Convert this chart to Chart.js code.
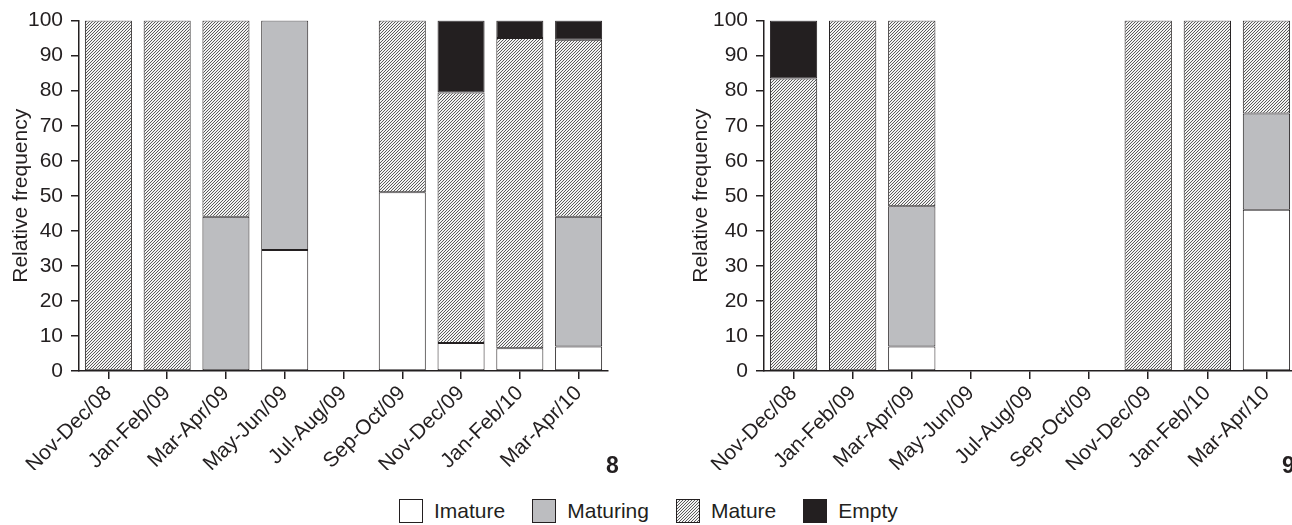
<!DOCTYPE html>
<html lang="en">
<head>
    <meta charset="UTF-8">
    <title>Gonadal stages - relative frequency</title>
    <script src="https://cdn.jsdelivr.net/npm/chart.js@4.4.0/dist/chart.umd.min.js"></script>
    <style>
        body {
            margin: 0;
            background: #fff;
            font-family: "Liberation Sans", Arial, sans-serif;
            color: #231f20;
            overflow: hidden;
        }
        .figure {
            position: relative;
            width: 1292px;
            height: 525px;
            overflow: hidden;
        }
        #chart8 { position: absolute; left: 0; top: 0; }
        #chart9 { position: absolute; left: 680px; top: 0; }
        .fig-num {
            position: absolute;
            font-weight: bold;
            font-size: 23px;
            top: 452px;
        }
        .legend {
            position: absolute;
            top: 499px;
            left: 399px;
            display: flex;
            align-items: center;
            font-size: 21px;
        }
        .legend span.box {
            display: inline-block;
            width: 24px;
            height: 24px;
            border: 1px solid #231f20;
            box-sizing: border-box;
            margin-right: 11px;
        }
        .legend .item { display: flex; align-items: center; margin-right: 27px; }
    </style>
</head>
<body>
<div class="figure">
    <canvas id="chart8" width="640" height="470"></canvas>
    <canvas id="chart9" width="616" height="470"></canvas>
    <div class="fig-num" style="left:606px">8</div>
    <div class="fig-num" style="left:1282px">9</div>
    <div class="legend">
        <div class="item"><span class="box" style="background:#fff"></span>Imature</div>
        <div class="item"><span class="box" style="background:#bcbdc0"></span>Maturing</div>
        <div class="item"><span class="box" id="hatchBox"></span>Mature</div>
        <div class="item"><span class="box" style="background:#231f20"></span>Empty</div>
    </div>
</div>

<script>
    // categories (bimonthly periods)
    var periods = ['Nov-Dec/08', 'Jan-Feb/09', 'Mar-Apr/09', 'May-Jun/09', 'Jul-Aug/09',
                   'Sep-Oct/09', 'Nov-Dec/09', 'Jan-Feb/10', 'Mar-Apr/10'];
    var yTicks = [0, 10, 20, 30, 40, 50, 60, 70, 80, 90, 100];

    // figure 8
    var imature8  = [0, 0, 0, 34.5, 0, 51, 8, 6.5, 7];
    var maturing8 = [0, 0, 44, 65.5, 0, 0, 0, 0, 37];
    var mature8   = [100, 100, 56, 0, 0, 49, 71.5, 88.5, 50.5];
    var empty8    = [0, 0, 0, 0, 0, 0, 20.5, 5, 5.5];

    // figure 9
    var imature9  = [0, 0, 7, 0, 0, 0, 0, 0, 46];
    var maturing9 = [0, 0, 40, 0, 0, 0, 0, 0, 27.5];
    var mature9   = [83.5, 100, 53, 0, 0, 0, 100, 100, 26.5];
    var empty9    = [16.5, 0, 0, 0, 0, 0, 0, 0, 0];

    var ink = '#231f20';
    var fontFamily = '"Liberation Sans", Arial, sans-serif';

    // hatch pattern for the "Mature" stage: 1px diagonal lines every 3px
    function makeHatch() {
        var c = document.createElement('canvas');
        c.width = 3; c.height = 3;
        var g = c.getContext('2d');
        g.fillStyle = '#f2f2f2';
        g.fillRect(0, 0, 3, 3);
        g.fillStyle = '#5a5a5a';
        for (var i = 0; i < 3; i++) g.fillRect(i, 2 - i, 1, 1);
        return c;
    }
    var hatchTile = makeHatch();
    var hatch = document.createElement('canvas').getContext('2d').createPattern(hatchTile, 'repeat');
    document.getElementById('hatchBox').style.background = 'url(' + hatchTile.toDataURL() + ')';

    // empty segments are left out instead of drawn with zero height
    function skipZero(arr) {
        return arr.map(function (v) { return v === 0 ? null : v; });
    }

    function makeChart(id, imature, maturing, mature, empty, yWidth, padRight) {
        var ds = function (label, data, color) {
            return {
                label: label,
                data: skipZero(data),
                backgroundColor: color,
                borderColor: ink,
                borderWidth: 1,
                borderSkipped: false,
                barPercentage: 0.8,
                categoryPercentage: 1.0
            };
        };
        return new Chart(document.getElementById(id), {
            type: 'bar',
            data: {
                labels: periods,
                datasets: [
                    ds('Imature', imature, '#ffffff'),
                    ds('Maturing', maturing, '#bcbdc0'),
                    ds('Mature', mature, hatch),
                    ds('Empty', empty, ink)
                ]
            },
            options: {
                responsive: false,
                animation: false,
                layout: { padding: { top: 16, right: padRight, left: 0, bottom: 0 } },
                plugins: { legend: { display: false }, tooltip: { enabled: false } },
                scales: {
                    x: {
                        stacked: true,
                        grid: { offset: false, drawOnChartArea: false, drawTicks: true, tickLength: 8, color: ink, lineWidth: 1.5 },
                        border: { display: true, color: ink, width: 1.5 },
                        ticks: {
                            color: ink,
                            font: { family: fontFamily, size: 21 },
                            minRotation: 45,
                            maxRotation: 45,
                            autoSkip: false,
                            padding: 2
                        },
                        afterFit: function (s) { s.height = 99; }
                    },
                    y: {
                        stacked: true,
                        min: 0,
                        max: 100,
                        afterBuildTicks: function (s) { s.ticks = yTicks.map(function (v) { return { value: v }; }); },
                        grid: { drawOnChartArea: false, drawTicks: true, tickLength: 8, color: ink, lineWidth: 1.5 },
                        border: { display: true, color: ink, width: 1.5 },
                        ticks: {
                            color: ink,
                            font: { family: fontFamily, size: 21 },
                            padding: 8
                        },
                        title: {
                            display: true,
                            text: 'Relative frequency',
                            color: ink,
                            font: { family: fontFamily, size: 21 },
                            padding: { top: 9, bottom: 0 }
                        },
                        afterFit: function (s) { s.width = yWidth; }
                    }
                }
            }
        });
    }

    makeChart('chart8', imature8, maturing8, mature8, empty8, 79, 32);
    makeChart('chart9', imature9, maturing9, mature9, empty9, 84, 0);
</script>
</body>
</html>
